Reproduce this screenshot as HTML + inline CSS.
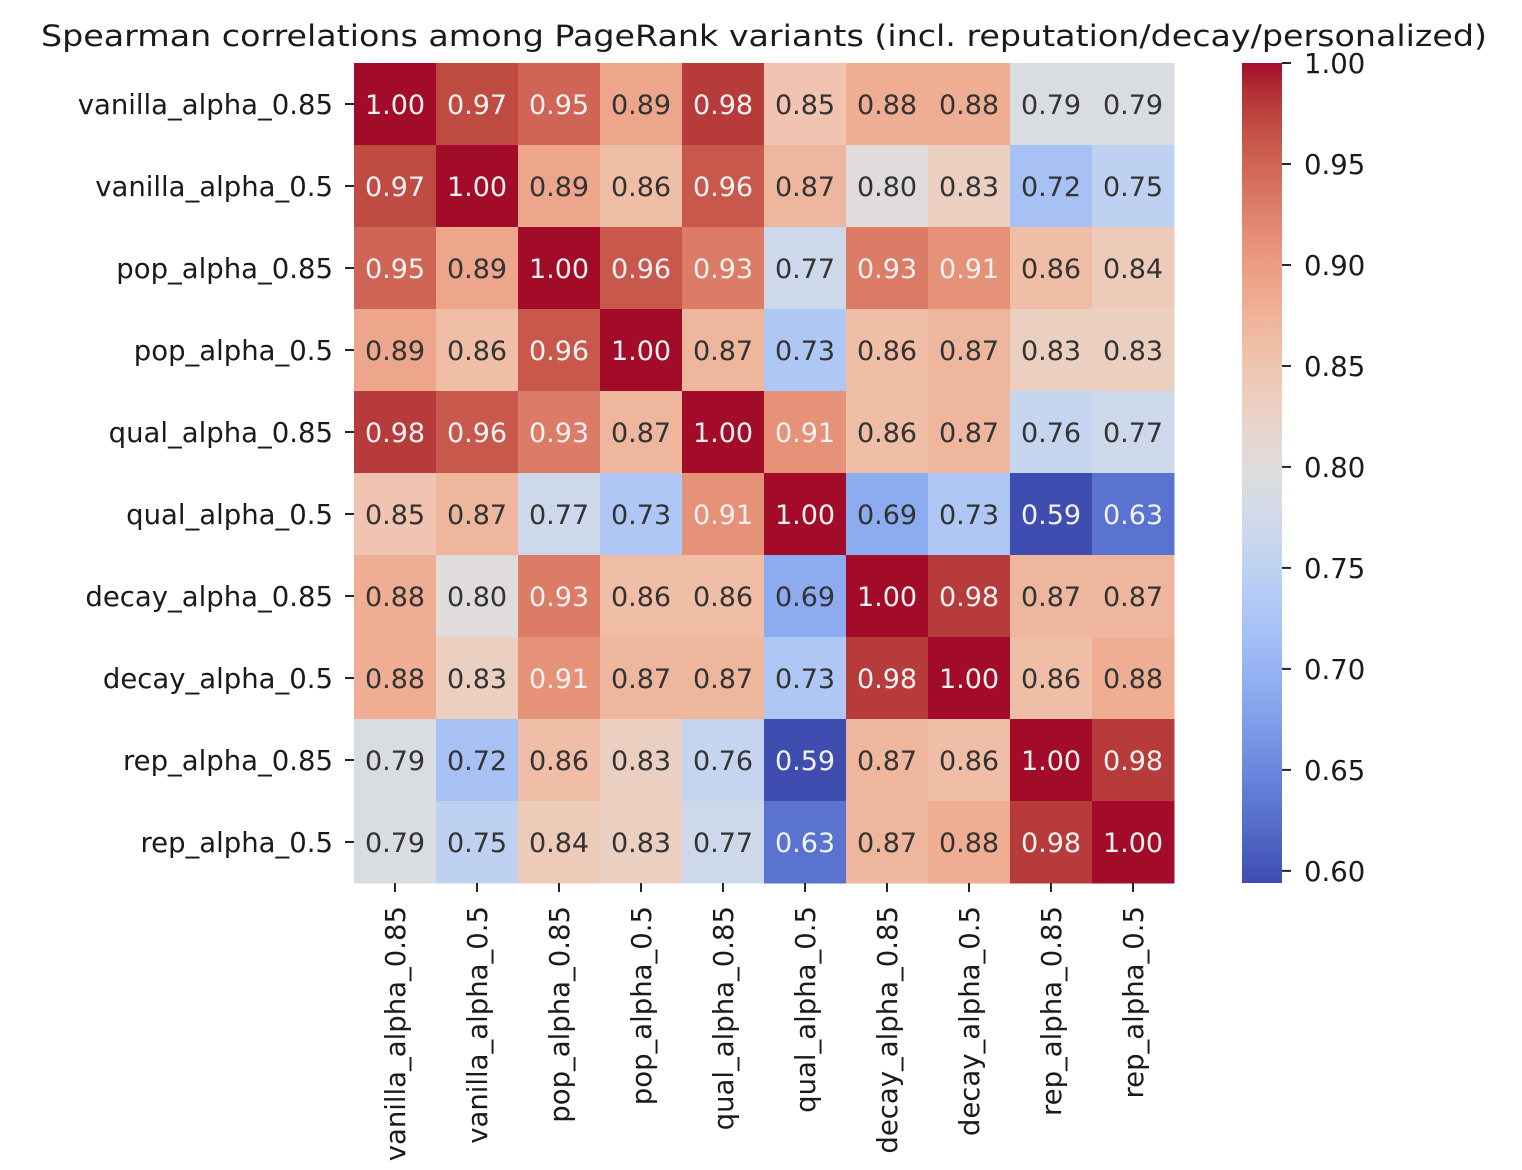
<!DOCTYPE html>
<html><head><meta charset="utf-8"><style>
html,body{margin:0;padding:0;background:#fff;}
svg{display:block;font-family:"DejaVu Sans","Liberation Sans",sans-serif;}
</style></head><body>
<svg id="chart" width="1522" height="1170" viewBox="0 0 1522 1170" xmlns="http://www.w3.org/2000/svg">
<text x="764" y="46" font-size="29" text-anchor="middle" fill="#1a1a1a" textLength="1446" lengthAdjust="spacingAndGlyphs">Spearman correlations among PageRank variants (incl. reputation/decay/personalized)</text>
<defs><linearGradient id="cbgrad" x1="0" y1="1" x2="0" y2="0"></linearGradient></defs>
<g id="cells"></g><g id="ylabels"></g><g id="xlabels"></g><g id="cbar"></g>
</svg>
<script>
const labels = ["vanilla_alpha_0.85","vanilla_alpha_0.5","pop_alpha_0.85","pop_alpha_0.5","qual_alpha_0.85","qual_alpha_0.5","decay_alpha_0.85","decay_alpha_0.5","rep_alpha_0.85","rep_alpha_0.5"];
const values = [
[1.00,0.97,0.95,0.89,0.98,0.85,0.88,0.88,0.79,0.79],
[0.97,1.00,0.89,0.86,0.96,0.87,0.80,0.83,0.72,0.75],
[0.95,0.89,1.00,0.96,0.93,0.77,0.93,0.91,0.86,0.84],
[0.89,0.86,0.96,1.00,0.87,0.73,0.86,0.87,0.83,0.83],
[0.98,0.96,0.93,0.87,1.00,0.91,0.86,0.87,0.76,0.77],
[0.85,0.87,0.77,0.73,0.91,1.00,0.69,0.73,0.59,0.63],
[0.88,0.80,0.93,0.86,0.86,0.69,1.00,0.98,0.87,0.87],
[0.88,0.83,0.91,0.87,0.87,0.73,0.98,1.00,0.86,0.88],
[0.79,0.72,0.86,0.83,0.76,0.59,0.87,0.86,1.00,0.98],
[0.79,0.75,0.84,0.83,0.77,0.63,0.87,0.88,0.98,1.00]];
const cbTicks = [0.60,0.65,0.70,0.75,0.80,0.85,0.90,0.95,1.00];
const vmin = 0.594, vmax = 1.0;

const CM=[[59,76,192],[68,90,204],[77,104,215],[87,117,225],[98,130,234],[108,142,241],[119,154,247],[130,165,251],[141,176,254],[152,185,255],[163,194,255],[174,201,253],[184,208,249],[194,213,244],[204,217,238],[213,219,230],[221,221,221],[229,216,209],[236,211,197],[241,204,185],[245,196,173],[247,187,160],[247,177,148],[247,166,135],[244,154,123],[241,141,111],[236,127,99],[229,112,88],[222,96,77],[213,80,66],[203,62,56],[192,40,47],[180,4,38]];
function rawmap(t){t=Math.max(0,Math.min(1,t));const f=t*32,i=Math.min(31,Math.floor(f)),r=f-i;
 return CM[i].map((c,k)=>c+(CM[i+1][k]-c)*r);}
function desat(c){const g=0.3*c[0]+0.59*c[1]+0.11*c[2];return c.map(v=>Math.round(0.85*v+0.15*g));}
function cmap(t){return desat(rawmap(t));}
function lum(c){const l=c.map(v=>{v/=255;return v<=0.03928?v/12.92:Math.pow((v+0.055)/1.055,2.4);});return 0.2126*l[0]+0.7152*l[1]+0.0722*l[2];}
const NS="http://www.w3.org/2000/svg";
function mk(tag,attrs,parent){const e=document.createElementNS(NS,tag);for(const k in attrs)e.setAttribute(k,attrs[k]);parent.appendChild(e);return e;}
const X0=354,Y0=63,W=820,H=820,n=labels.length,cw=W/n,ch=H/n;
const xPos=j=>X0+j*cw, yPos=i=>Y0+i*ch;
const cells=document.getElementById('cells');
values.forEach((row,i)=>row.forEach((v,j)=>{
 const t0=(v-vmin)/(vmax-vmin);
 const c=cmap(t0);
 const r=mk('rect',{x:xPos(j),y:yPos(i),width:cw+0.5,height:ch+0.5,fill:`rgb(${c})`},cells);
 
 
 const t=mk('text',{x:xPos(j)+cw/2,y:yPos(i)+ch/2+10,'font-size':27,'text-anchor':'middle',fill:lum(rawmap(t0).map(Math.round))>0.408?'#333333':'#f2f2f2'},cells);
 t.textContent=v.toFixed(2);
 
 
}));
const yl=document.getElementById('ylabels'),xl=document.getElementById('xlabels');
labels.forEach((l,i)=>{
 const yc=yPos(i)+ch/2;
 mk('line',{x1:345,x2:354,y1:yc,y2:yc,stroke:'#262626','stroke-width':2},yl);
 const t=mk('text',{x:333,y:yc+10,'font-size':27.5,'text-anchor':'end',fill:'#1a1a1a'},yl);
 t.textContent=l;
 
 
 const xc=xPos(i)+cw/2;
 mk('line',{x1:xc,x2:xc,y1:883,y2:892,stroke:'#262626','stroke-width':2},xl);
 const u=mk('text',{x:0,y:0,'font-size':27.5,'text-anchor':'end',fill:'#1a1a1a',transform:`translate(${xc+10},906) rotate(-90)`},xl);
 u.textContent=l;
 
 
});
const cb=document.getElementById('cbar'),grad=document.getElementById('cbgrad');
for(let k=0;k<=32;k++){mk('stop',{offset:k/32,'stop-color':`rgb(${desat(CM[k])})`},grad);}
const CBX=1242,CBW=40,cbY=v=>883-(v-vmin)/(vmax-vmin)*820;
const bar=mk('rect',{x:CBX,y:63,width:CBW,height:820,fill:'url(#cbgrad)'},cb);


cbTicks.forEach(v=>{const y=cbY(v);
 mk('line',{x1:CBX+CBW,x2:CBX+CBW+9,y1:y,y2:y,stroke:'#262626','stroke-width':2},cb);
 const t=mk('text',{x:1304,y:y+10,'font-size':27.5,fill:'#1a1a1a'},cb);
 t.textContent=v.toFixed(2);
 
 
});
</script>
</body></html>
